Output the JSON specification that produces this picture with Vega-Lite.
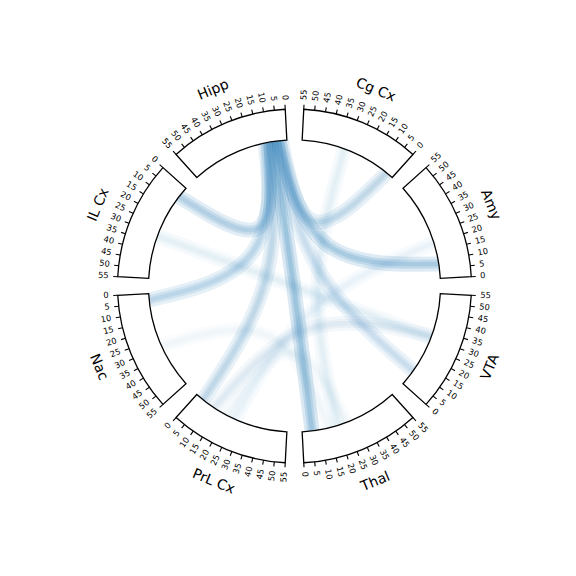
{
  "$schema": "https://vega.github.io/schema/vega-lite/v6.json",
  "width": 400,
  "height": 400,
  "autosize": "none",
  "padding": {"left": 94.5, "top": 86, "right": 81.5, "bottom": 90},
  "background": "white",
  "config": {"view": {"stroke": null}, "font": "DejaVu Sans"},
  "datasets": {
    "segs": [
      {"name": "Cg Cx", "i": 0, "ticks": [0,5,10,15,20,25,30,35,40,45,50,55]},
      {"name": "Amy", "i": 1, "ticks": [0,5,10,15,20,25,30,35,40,45,50,55]},
      {"name": "VTA", "i": 2, "ticks": [0,5,10,15,20,25,30,35,40,45,50,55]},
      {"name": "Thal", "i": 3, "ticks": [0,5,10,15,20,25,30,35,40,45,50,55]},
      {"name": "PrL Cx", "i": 4, "ticks": [0,5,10,15,20,25,30,35,40,45,50,55]},
      {"name": "Nac", "i": 5, "ticks": [0,5,10,15,20,25,30,35,40,45,50,55]},
      {"name": "IL Cx", "i": 6, "ticks": [0,5,10,15,20,25,30,35,40,45,50,55]},
      {"name": "Hipp", "i": 7, "ticks": [0,5,10,15,20,25,30,35,40,45,50,55]}
    ],
    "chords": [
      {"c": "A", "w": 1.0, "i": [7,-1,3], "v": [7.5,0,5.5], "k": [0,1,2]},
      {"c": "B", "w": 0.85, "i": [7,-1,1], "v": [4.5,0,8], "k": [0,1,2]},
      {"c": "C", "w": 0.6, "i": [7,-1,0], "v": [3,0,4], "k": [0,1,2]},
      {"c": "D", "w": 0.75, "i": [7,-1,6], "v": [12,0,6], "k": [0,1,2]},
      {"c": "E", "w": 0.6, "i": [7,-1,4], "v": [9,0,4.6], "k": [0,1,2]},
      {"c": "F", "w": 0.65, "i": [7,-1,5], "v": [10.5,0,3.5], "k": [0,1,2]},
      {"c": "G", "w": 0.5, "i": [7,-1,2], "v": [6,0,9], "k": [0,1,2]},
      {"c": "H", "w": 0.3, "i": [4,-1,2], "v": [12,0,31], "k": [0,1,2]},
      {"c": "I", "w": 0.22, "i": [6,-1,2], "v": [31,0,30], "k": [0,1,2]},
      {"c": "J", "w": 0.22, "i": [0,-1,3], "v": [31,0,20], "k": [0,1,2]},
      {"c": "K", "w": 0.18, "i": [1,-1,4], "v": [20,0,25], "k": [0,1,2]},
      {"c": "L", "w": 0.14, "i": [3,-1,4], "v": [25,0,20], "k": [0,1,2]},
      {"c": "M", "w": 0.14, "i": [5,-1,3], "v": [30,0,15], "k": [0,1,2]}
    ]
  },
  "layer": [
    {
      "data": {"name": "chords"},
      "transform": [
        {"flatten": ["i", "v", "k"]},
        {"calculate": "42 + 45*datum.i - datum.v*39/55", "as": "ang"},
        {"calculate": "datum.i < 0 ? 0 : 146", "as": "r"},
        {"calculate": "datum.r*sin(datum.ang*PI/180)", "as": "x"},
        {"calculate": "datum.r*cos(datum.ang*PI/180)", "as": "y"}
      ],
      "mark": {"type": "line", "interpolate": "bundle", "tension": 0.75, "strokeWidth": 15, "color": "#1f77b4", "strokeCap": "butt"},
      "encoding": {
        "x": {"field": "x", "type": "quantitative", "scale": {"domain": [-200, 200]}, "axis": null},
        "y": {"field": "y", "type": "quantitative", "scale": {"domain": [-200, 200]}, "axis": null},
        "detail": {"field": "c"},
        "order": {"field": "k"},
        "opacity": {"field": "w", "type": "quantitative", "scale": {"domain": [0, 1], "range": [0, 0.17]}, "legend": null}
      }
    },
    {
      "data": {"name": "chords"},
      "transform": [
        {"flatten": ["i", "v", "k"]},
        {"calculate": "42 + 45*datum.i - datum.v*39/55", "as": "ang"},
        {"calculate": "datum.i < 0 ? 0 : 146", "as": "r"},
        {"calculate": "datum.r*sin(datum.ang*PI/180)", "as": "x"},
        {"calculate": "datum.r*cos(datum.ang*PI/180)", "as": "y"}
      ],
      "mark": {"type": "line", "interpolate": "bundle", "tension": 0.75, "strokeWidth": 9, "color": "#1f77b4", "strokeCap": "butt"},
      "encoding": {
        "x": {"field": "x", "type": "quantitative", "scale": {"domain": [-200, 200]}, "axis": null},
        "y": {"field": "y", "type": "quantitative", "scale": {"domain": [-200, 200]}, "axis": null},
        "detail": {"field": "c"},
        "order": {"field": "k"},
        "opacity": {"field": "w", "type": "quantitative", "scale": {"domain": [0, 1], "range": [0, 0.35]}, "legend": null}
      }
    },
    {
      "data": {"name": "chords"},
      "transform": [
        {"flatten": ["i", "v", "k"]},
        {"calculate": "42 + 45*datum.i - datum.v*39/55", "as": "ang"},
        {"calculate": "datum.i < 0 ? 0 : 146", "as": "r"},
        {"calculate": "datum.r*sin(datum.ang*PI/180)", "as": "x"},
        {"calculate": "datum.r*cos(datum.ang*PI/180)", "as": "y"}
      ],
      "mark": {"type": "line", "interpolate": "bundle", "tension": 0.75, "strokeWidth": 4.5, "color": "#1f77b4", "strokeCap": "butt"},
      "encoding": {
        "x": {"field": "x", "type": "quantitative", "scale": {"domain": [-200, 200]}, "axis": null},
        "y": {"field": "y", "type": "quantitative", "scale": {"domain": [-200, 200]}, "axis": null},
        "detail": {"field": "c"},
        "order": {"field": "k"},
        "opacity": {"field": "w", "type": "quantitative", "scale": {"domain": [0, 1], "range": [0, 0.75]}, "legend": null}
      }
    },
    {
      "data": {"name": "segs"},
      "transform": [
        {"calculate": "3 + 45*datum.i", "as": "a0"},
        {"calculate": "42 + 45*datum.i", "as": "a1"}
      ],
      "mark": {"type": "arc", "outerRadius": 177, "innerRadius": 146, "fill": "transparent", "stroke": "black", "strokeWidth": 1.3},
      "encoding": {
        "theta": {"field": "a0", "type": "quantitative", "scale": {"domain": [0, 360], "range": [0, 6.283185307179586]}},
        "theta2": {"field": "a1"}
      }
    },
    {
      "data": {"name": "segs"},
      "transform": [
        {"flatten": ["ticks"], "as": ["v"]},
        {"calculate": "42 + 45*datum.i - datum.v*39/55", "as": "ang"},
        {"calculate": "177*sin(datum.ang*PI/180)", "as": "x"},
        {"calculate": "177*cos(datum.ang*PI/180)", "as": "y"},
        {"calculate": "181.5*sin(datum.ang*PI/180)", "as": "x2"},
        {"calculate": "181.5*cos(datum.ang*PI/180)", "as": "y2"}
      ],
      "mark": {"type": "rule", "color": "black", "strokeWidth": 1.1},
      "encoding": {
        "x": {"field": "x", "type": "quantitative", "scale": {"domain": [-200, 200]}, "axis": null},
        "y": {"field": "y", "type": "quantitative", "scale": {"domain": [-200, 200]}, "axis": null},
        "x2": {"field": "x2"},
        "y2": {"field": "y2"}
      }
    },
    {
      "data": {"name": "segs"},
      "transform": [
        {"flatten": ["ticks"], "as": ["v"]},
        {"calculate": "42 + 45*datum.i - datum.v*39/55", "as": "ang"},
        {"filter": "datum.ang < 180"},
        {"calculate": "186*sin(datum.ang*PI/180)", "as": "x"},
        {"calculate": "186*cos(datum.ang*PI/180)", "as": "y"},
        {"calculate": "datum.ang - 90", "as": "rot"}
      ],
      "mark": {"type": "text", "align": "left", "baseline": "middle", "fontSize": 8.3, "color": "black"},
      "encoding": {
        "x": {"field": "x", "type": "quantitative", "scale": {"domain": [-200, 200]}, "axis": null},
        "y": {"field": "y", "type": "quantitative", "scale": {"domain": [-200, 200]}, "axis": null},
        "text": {"field": "v", "type": "quantitative"},
        "angle": {"field": "rot", "type": "quantitative", "scale": null}
      }
    },
    {
      "data": {"name": "segs"},
      "transform": [
        {"flatten": ["ticks"], "as": ["v"]},
        {"calculate": "42 + 45*datum.i - datum.v*39/55", "as": "ang"},
        {"filter": "datum.ang >= 180"},
        {"calculate": "186*sin(datum.ang*PI/180)", "as": "x"},
        {"calculate": "186*cos(datum.ang*PI/180)", "as": "y"},
        {"calculate": "datum.ang - 270", "as": "rot"}
      ],
      "mark": {"type": "text", "align": "right", "baseline": "middle", "fontSize": 8.3, "color": "black"},
      "encoding": {
        "x": {"field": "x", "type": "quantitative", "scale": {"domain": [-200, 200]}, "axis": null},
        "y": {"field": "y", "type": "quantitative", "scale": {"domain": [-200, 200]}, "axis": null},
        "text": {"field": "v", "type": "quantitative"},
        "angle": {"field": "rot", "type": "quantitative", "scale": null}
      }
    },
    {
      "data": {"name": "segs"},
      "transform": [
        {"calculate": "22.5 + 45*datum.i", "as": "ang"},
        {"calculate": "212*sin(datum.ang*PI/180)", "as": "x"},
        {"calculate": "212*cos(datum.ang*PI/180)", "as": "y"},
        {"calculate": "((datum.ang + 90) % 180) - 90", "as": "rot"}
      ],
      "mark": {"type": "text", "align": "center", "baseline": "middle", "fontSize": 14, "color": "black"},
      "encoding": {
        "x": {"field": "x", "type": "quantitative", "scale": {"domain": [-200, 200]}, "axis": null},
        "y": {"field": "y", "type": "quantitative", "scale": {"domain": [-200, 200]}, "axis": null},
        "text": {"field": "name"},
        "angle": {"field": "rot", "type": "quantitative", "scale": null}
      }
    }
  ]
}
